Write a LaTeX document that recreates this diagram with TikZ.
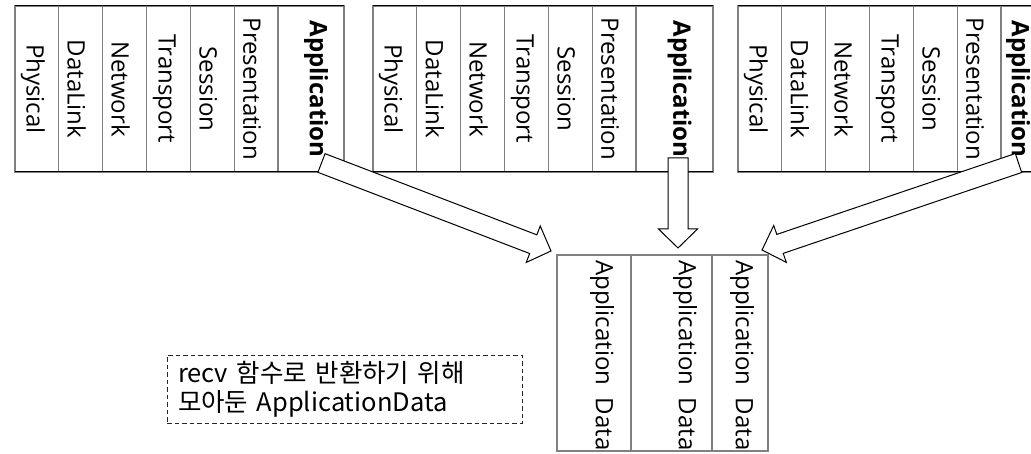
\documentclass[tikz,border=0pt]{standalone}
\usepackage{fontspec}
\setmainfont{Open Sans}
\newfontfamily\kofont{Noto Sans CJK KR}
\usetikzlibrary{calc}

% hollow block arrow from #1 (tail centre) to #2 (tip)
\newcommand{\hollowarrow}[2]{%
	\draw[blockarrow] let \p1=($(#2)-(#1)$), \n1={atan2(\y1,\x1)}, \n2={veclen(\x1,\y1)} in
	[shift={(#1)}, rotate=\n1]
	(0pt,-10pt) -- (\n2-19pt,-10pt) -- (\n2-19pt,-19.5pt) -- (\n2,0pt)
	-- (\n2-19pt,19.5pt) -- (\n2-19pt,10pt) -- (0pt,10pt) -- cycle;
}

\begin{document}
\begin{tikzpicture}[x=1pt, y=1pt,
	layer/.style={draw=black!50, line width=1.2pt, minimum width=43.83pt, minimum height=166pt, inner sep=0pt, outer sep=0pt},
	layername/.style={rotate=-90, inner sep=0pt, font=\fontsize{24}{28}\selectfont},
	edge/.style={black, line width=1pt},
	databox/.style={draw=black!50, line width=1.2pt, minimum height=196pt, inner sep=0pt, outer sep=0pt},
	blockarrow/.style={draw=black, line width=1pt, fill=white, line join=miter},
	notebox/.style={draw=black!85, line width=1pt, dash pattern=on 4.5pt off 3pt, minimum width=355pt, minimum height=68pt, text width=333pt, align=left, inner sep=0pt, font=\kofont\fontsize{25.5}{29}\selectfont}]

\clip (0,0) rectangle (1031,453);

%Stacks
\foreach \sx/\aw/\ax [count=\s] in {15/66/5, 373/77/5, 738/34/0}
{
	\foreach \lname [count=\i from 0] in {Physical,DataLink,Network,Transport,Session,Presentation}
	{
		\node[layer] (s\s-\i) at (\sx+\i*43.83+21.92, 364) {};
		\node[layername] (s\s-\i-name) at ([xshift=-4pt]s\s-\i.center) {\lname};
	}
	\node[layer, minimum width=\aw pt] (s\s-app) at (\sx+263+\aw/2, 364) {};
	\node[layername, font=\fontsize{24}{28}\selectfont\bfseries] (s\s-app-name) at ([xshift=\ax pt]s\s-app.center) {Application};
	\draw[edge] (s\s-0.north west) -- (s\s-app.north east);
	\draw[edge] (s\s-0.south west) -- (s\s-app.south east);
}

%Collected data
\foreach \cx/\cw/\tx [count=\k] in {557/74/602, 631/81/685, 712/56/742}
{
	\node[databox, minimum width=\cw pt] (d\k) at (\cx+\cw/2, 100) {};
	\node[layername, anchor=west] (d\k-name) at (\tx, 193) {Application\ \ Data};
}

%Arrows
\coordinate (tail1) at ([xshift=10.5pt, yshift=9pt]s1-app.south);
\coordinate (tail2) at ([xshift=3.5pt, yshift=14pt]s2-app.south);
\coordinate (tail3) at ([xshift=0.5pt, yshift=9pt]s3-app.south);

\coordinate (tip1) at ([xshift=-6pt, yshift=4pt]d1.north west);
\coordinate (tip2) at ([xshift=6.5pt, yshift=7pt]d2.north);
\coordinate (tip3) at ([xshift=-6pt, yshift=5pt]d3.north east);

\hollowarrow{tail1}{tip1}
\hollowarrow{tail2}{tip2}
\hollowarrow{tail3}{tip3}

% Note
\node[notebox] (note) at (344.5,64) {recv 함수로 반환하기 위해\\모아둔 ApplicationData};

\end{tikzpicture}
\end{document}
